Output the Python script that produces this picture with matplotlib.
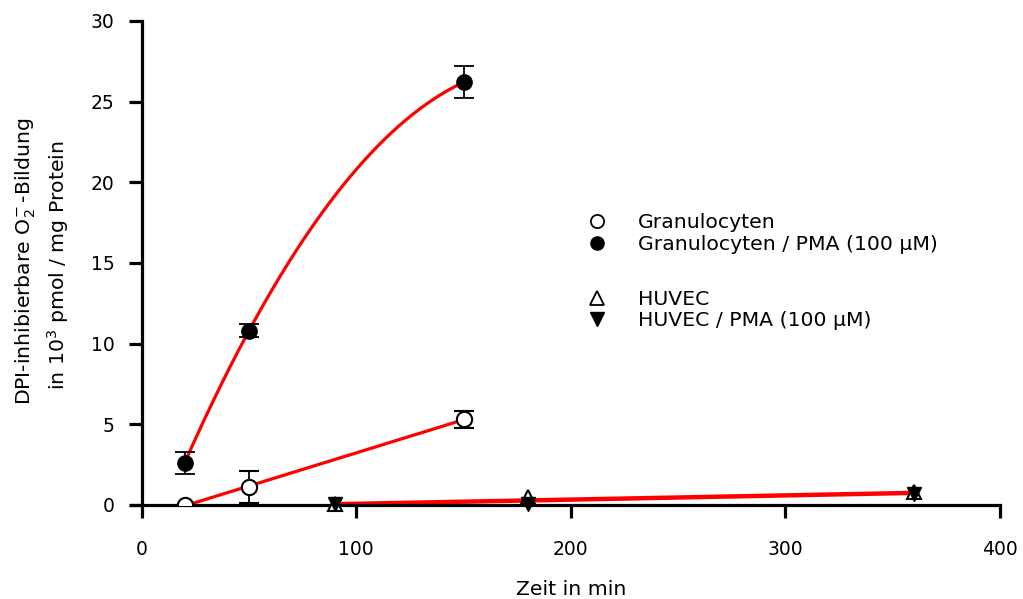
import numpy as np
import matplotlib
matplotlib.use("Agg")
import matplotlib.pyplot as plt
from matplotlib.lines import Line2D

plt.rcParams['font.family'] = ['DejaVu Sans']

# Time points (min) and DPI-inhibitable O2- formation (10^3 pmol / mg protein)
gran_t = [20, 50, 150]
gran_y = [0.0, 1.1, 5.3]
gran_err = [0.0, 1.0, 0.5]

gran_pma_t = [20, 50, 150]
gran_pma_y = [2.6, 10.8, 26.2]
gran_pma_err = [0.7, 0.4, 1.0]

huvec_t = [90, 180, 360]
huvec_y = [0.05, 0.5, 0.8]

huvec_pma_t = [90, 180, 360]
huvec_pma_y = [0.05, 0.05, 0.7]

labels = ["Granulocyten", "Granulocyten / PMA (100 µM)",
          "HUVEC", "HUVEC / PMA (100 µM)"]

fs = 13.5
fs_text = 14.7
fig = plt.figure(figsize=(10.23, 5.99), dpi=100)
ax = fig.add_axes([0.128, 0.157, 0.8495, 0.808])

red = "#ff0000"

# fitted curves
xs = np.linspace(gran_pma_t[0], gran_pma_t[-1], 200)
c2 = np.polyfit(gran_pma_t, gran_pma_y, 2)
ax.plot(xs, np.polyval(c2, xs), color=red, lw=2.3, zorder=2)

xs = np.array([gran_t[0], gran_t[-1]])
c1 = np.polyfit(gran_t, gran_y, 1)
ax.plot(xs, np.polyval(c1, xs), color=red, lw=2.3, zorder=2)

# one common fit for both HUVEC series
xs = np.array([huvec_t[0], huvec_t[-1]])
c = np.polyfit(huvec_t + huvec_pma_t, huvec_y + huvec_pma_y, 1)
ax.plot(xs, np.polyval(c, xs), color=red, lw=3.2, zorder=2)

# data points with error bars
ms = 11
ax.errorbar(gran_t, gran_y, yerr=gran_err, fmt="o", mfc="white", mec="black",
            mew=1.5, ms=ms, ecolor="black", elinewidth=1.3, capsize=7,
            capthick=1.3, zorder=4)
ax.errorbar(gran_pma_t, gran_pma_y, yerr=gran_pma_err, fmt="o", mfc="black",
            mec="black", ms=ms, ecolor="black", elinewidth=1.3, capsize=7,
            capthick=1.3, zorder=4)
ax.plot(huvec_t, huvec_y, "^", mfc="white", mec="black", mew=1.5, ms=ms - 1,
        zorder=4, clip_on=False)
ax.plot(huvec_pma_t, huvec_pma_y, "v", mfc="black", mec="black", ms=ms - 1,
        zorder=5, clip_on=False)

# axes styling
ax.set_xlim(-5, 400)
ax.set_ylim(0, 30)
for side in ["top", "right"]:
    ax.spines[side].set_visible(False)
ax.spines["left"].set_position(("data", 0))
for side in ["left", "bottom"]:
    ax.spines[side].set_linewidth(2.3)
ax.set_xticks([0, 100, 200, 300, 400])
ax.set_yticks([0, 5, 10, 15, 20, 25, 30])
ax.tick_params(axis="x", direction="out", length=9.5, width=2.3,
               labelsize=fs, pad=16)
ax.tick_params(axis="y", direction="out", length=9.5, width=2.3,
               labelsize=fs, pad=10)

ax.set_xlabel("Zeit in min", fontsize=fs_text, labelpad=12)
ax.xaxis.set_label_coords(205 / 405, -0.155)
fig.text(0.025, 0.563, "DPI-inhibierbare O$_2^{-}\\,$-Bildung", rotation=90,
         fontsize=fs_text, ha="center", va="center")
fig.text(0.057, 0.558, "in 10$^3$ pmol / mg Protein", rotation=90,
         fontsize=fs_text, ha="center", va="center")

# legend in two groups
def legend_group(handles, texts, ypos):
    return ax.legend(handles, texts, loc="center left",
                     bbox_to_anchor=(0.52, ypos), frameon=False,
                     fontsize=fs_text, labelspacing=0.12, handletextpad=1.3,
                     handlelength=1.4, borderpad=0, borderaxespad=0)

leg1 = legend_group(
    [Line2D([], [], ls="none", marker="o", mfc="white", mec="black", mew=1.3, ms=9.5),
     Line2D([], [], ls="none", marker="o", mfc="black", mec="black", ms=9.5)],
    labels[:2], 0.561)
ax.add_artist(leg1)
legend_group(
    [Line2D([], [], ls="none", marker="^", mfc="white", mec="black", mew=1.3, ms=9.5),
     Line2D([], [], ls="none", marker="v", mfc="black", mec="black", ms=9.5)],
    labels[2:], 0.403)

fig.savefig("out.png", dpi=100)
